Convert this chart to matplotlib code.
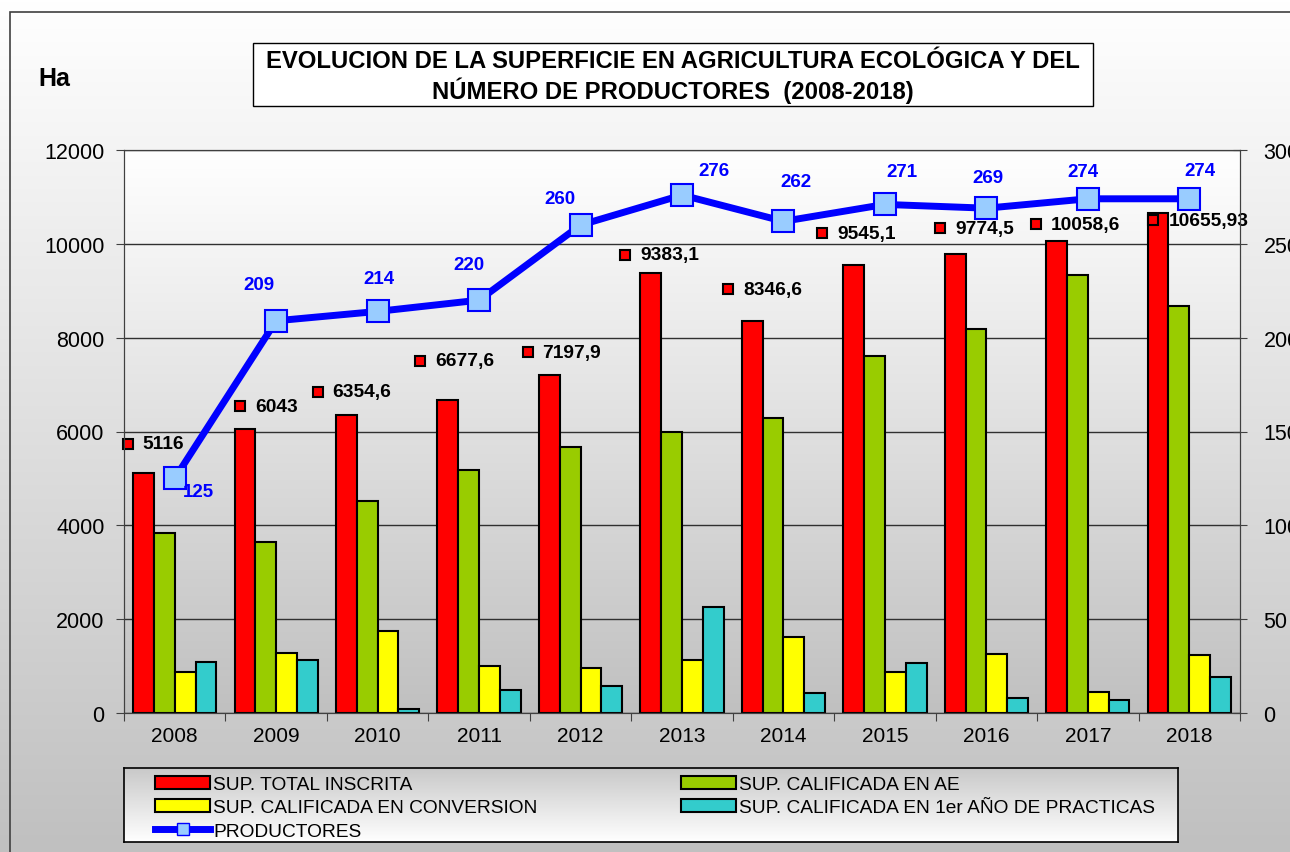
import numpy as np
import matplotlib
matplotlib.use("Agg")
import matplotlib.pyplot as plt
from matplotlib.colors import LinearSegmentedColormap
from matplotlib.patches import Rectangle
from matplotlib.lines import Line2D
from matplotlib.transforms import offset_copy

plt.rcParams["font.family"] = ["Liberation Sans", "DejaVu Sans"]

# data (Ha and number of producers)
years = ["2008", "2009", "2010", "2011", "2012", "2013", "2014", "2015", "2016", "2017", "2018"]
sup_total = [5116, 6043, 6354.6, 6677.6, 7197.9, 9383.1, 8346.6, 9545.1, 9774.5, 10058.6, 10655.93]
sup_ae = [3830, 3640, 4520, 5170, 5670, 6000, 6290, 7610, 8180, 9330, 8670]
sup_conv = [880, 1280, 1740, 1000, 960, 1130, 1630, 880, 1260, 450, 1240]
sup_1er = [1080, 1130, 85, 500, 570, 2250, 430, 1060, 330, 270, 760]
productores = [125, 209, 214, 220, 260, 276, 262, 271, 269, 274, 274]

series_labels = ["SUP. TOTAL INSCRITA", "SUP. CALIFICADA EN AE",
                 "SUP. CALIFICADA EN CONVERSION", "SUP. CALIFICADA EN 1er AÑO DE PRACTICAS"]
line_label = "PRODUCTORES"
title = "EVOLUCION DE LA SUPERFICIE EN AGRICULTURA ECOLÓGICA Y DEL\nNÚMERO DE PRODUCTORES  (2008-2018)"

# label placement (pixels, relative to each point)
total_offsets = [(-47, 29), (-36, 23), (-60, 23), (-59, 39), (-53, 23), (-57, 18),
                 (-55, 32), (-63, 32), (-46, 26), (-52, 17), (-36, -7)]
prod_offsets = [(24, -13), (-17, 36), (1, 33), (-10, 36), (-21, 27), (32, 25),
                (12, 40), (17, 33), (2, 31), (-5, 27), (11, 28)]

colors = ["#FF0000", "#99CC00", "#FFFF00", "#33CCCC"]

W, H = 1290, 853
def fx(px):
    return px / W
def fy(py):
    return 1 - py / H

fig = plt.figure(figsize=(W / 100, H / 100), dpi=100)

grad = np.linspace(0, 1, 256).reshape(-1, 1)
cm_bg = LinearSegmentedColormap.from_list("bg", ["#ffffff", "#c0c0c0"])
cm_leg = LinearSegmentedColormap.from_list("leg", ["#c8c8c8", "#ffffff"])

# figure background + border + title box
bg = fig.add_axes([0, 0, 1, 1])
bg.set_zorder(-10)
bg.imshow(grad, cmap=cm_bg, aspect="auto", extent=[0, 1, 0, 1])
bg.set_xlim(0, 1)
bg.set_ylim(0, 1)
bg.axis("off")
bg.add_patch(Rectangle((fx(10), -0.1), 1, fy(13) + 0.1, fill=False,
                       edgecolor="#404040", lw=1.2, transform=bg.transAxes))
bg.add_patch(Rectangle((fx(253), fy(107)), fx(1093) - fx(253), fy(44) - fy(107),
                       facecolor="white", edgecolor="black", lw=1, transform=bg.transAxes))
fig.text(fx(673), fy(77), title, ha="center", va="center", fontsize=17.2,
         fontweight="bold", linespacing=1.23)
fig.text(fx(54), fy(79), "Ha", ha="center", va="center", fontsize=18, fontweight="bold")

# main axes
ax = fig.add_axes([fx(124), fy(714), fx(1240) - fx(124), fy(151) - fy(714)])
ax.imshow(grad, cmap=cm_bg, aspect="auto", extent=[0, 1, 0, 1],
          transform=ax.transAxes, zorder=-1)
x = np.arange(len(years))
w = 0.205
bars = []
for k, (vals, c, lab) in enumerate(zip([sup_total, sup_ae, sup_conv, sup_1er], colors, series_labels)):
    b = ax.bar(x + (k - 1.5) * w, vals, w, color=c, edgecolor="black", lw=1.5,
               label=lab, zorder=2)
    bars.append(b)

ax.set_xlim(-0.5, len(years) - 0.5)
ax.set_ylim(0, 12000)
ax.set_yticks(range(0, 12001, 2000))
ax.set_xticks(np.arange(-0.5, len(years), 1))
ax.set_xticklabels([])
ax.set_xticks(x, minor=True)
ax.set_xticklabels(years, minor=True)
ax.tick_params(axis="x", which="minor", length=0, pad=9, labelsize=15)
ax.tick_params(axis="x", which="major", length=6, color="#404040")
ax.tick_params(axis="y", length=6, pad=8, labelsize=15.5, color="#404040")
ax.set_axisbelow(True)
ax.grid(axis="y", color="#303030", lw=1)
for s in ax.spines.values():
    s.set_color("#404040")

def fmt(v):
    return ("%.2f" % v).rstrip("0").rstrip(".").replace(".", ",")

for i, v in enumerate(sup_total):
    dx, dy = total_offsets[i]
    tr = offset_copy(ax.transData, fig=fig, x=dx, y=dy, units="dots")
    ax.plot([x[i]], [v], "s", ms=7, mfc="#FF0000", mec="black", mew=1.5,
            transform=tr, zorder=4, clip_on=False)
    tr_t = offset_copy(ax.transData, fig=fig, x=dx + 15, y=dy, units="dots")
    ax.text(x[i], v, fmt(v), transform=tr_t, ha="left", va="center",
            fontsize=13.8, fontweight="bold", zorder=4)

# producers on right axis
ax2 = ax.twinx()
ax2.set_ylim(0, 300)
ax2.set_yticks(range(0, 301, 50))
ax2.tick_params(axis="y", direction="inout", length=10, pad=12, labelsize=15.5, color="#404040")
for s in ax2.spines.values():
    s.set_color("#404040")
ax2.plot(x, productores, color="#0000FF", lw=5, marker="s", ms=16,
         mfc="#99CCFF", mec="#0000FF", mew=1.5, zorder=5)
for i, v in enumerate(productores):
    dx, dy = prod_offsets[i]
    tr = offset_copy(ax2.transData, fig=fig, x=dx, y=dy, units="dots")
    ax2.text(x[i], v, str(v), transform=tr, ha="center", va="center",
             fontsize=13.5, fontweight="bold", color="#0000FF", zorder=6)

# legend box with gradient
lax = fig.add_axes([fx(124), fy(843), fx(1178) - fx(124), fy(769) - fy(843)])
lax.imshow(grad, cmap=cm_leg, aspect="auto", extent=[0, 1, 0, 1])
lax.set_xlim(0, 1)
lax.set_ylim(0, 1)
lax.set_xticks([])
lax.set_yticks([])
for s in lax.spines.values():
    s.set_color("black")
    s.set_linewidth(1.2)

line_proxy = Line2D([], [], color="#0000FF", lw=5, marker="s", ms=9,
                    mfc="#99CCFF", mec="#0000FF", mew=1)
handles = [bars[0], bars[2], line_proxy, bars[1], bars[3]]
labels = [series_labels[0], series_labels[2], line_label, series_labels[1], series_labels[3]]
fig.legend(handles, labels, loc="upper left", bbox_to_anchor=(fx(155), fy(777)),
           ncol=2, frameon=False, fontsize=13.8, handlelength=2.87, handleheight=0.65,
           handletextpad=0.15, columnspacing=7.5, labelspacing=0.32,
           borderpad=0, borderaxespad=0)

fig.savefig("out.png", dpi=100)
